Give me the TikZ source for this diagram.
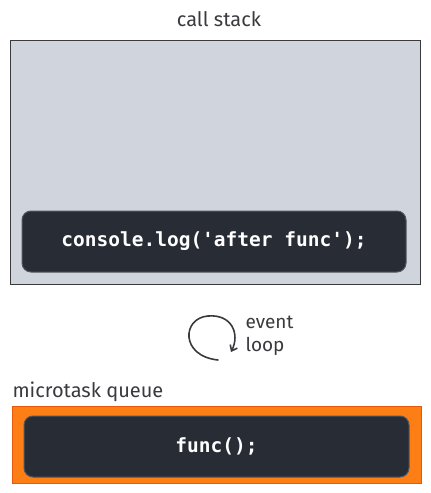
\documentclass[tikz,border=0pt]{standalone}
\usepackage{fontspec}
\setmainfont{Fira Sans}
\setmonofont{DejaVu Sans Mono}
\usepackage{tikz}
\usetikzlibrary{arrows.meta}
\definecolor{stackgray}{RGB}{208, 212, 220}
\definecolor{boxedge}{RGB}{58, 58, 62}
\definecolor{codedark}{RGB}{40, 44, 52}
\definecolor{queueorange}{RGB}{253, 126, 20}
\definecolor{queueedge}{RGB}{232, 89, 12}

\begin{document}
\begin{tikzpicture}[x=1pt, y=-1pt,
        label/.style={text=boxedge, font=\fontsize{20}{23}\selectfont},
        area/.style={draw=boxedge, line width=0.9pt, inner sep=0pt, outer sep=0pt},
        codebox/.style={draw=codedark!80!white, fill=codedark, rounded corners=9pt, line width=1pt,
            inner sep=0pt, text=white, font=\ttfamily\bfseries\fontsize{19.5}{23}\selectfont}]
        \useasboundingbox (0,0) rectangle (431,493);

        % call stack
        \node[area, fill=stackgray, minimum width=410pt, minimum height=244pt] (stack) at (215,162) {};
        \node[label] (stacklbl) at (219,19) {call stack};
        \node[codebox, minimum width=384pt, minimum height=61pt] (log) at (214,241.5) {console.log('after func');};

        % event loop
        \coordinate (loopstart) at (218,360);
        \coordinate (looptop) at (208,316);
        \coordinate (loopend) at (231,352);
        \draw[line width=1.6pt, boxedge, line cap=round, -{Straight Barb[length=5pt, width=8pt]}]
            (loopstart) .. controls (180,356) and (182,318) .. (looptop)
            .. controls (232,314) and (240,334) .. (loopend);
        \node[label, align=left, anchor=west, font=\fontsize{19}{23}\selectfont] (looplbl) at (242,336) {event\\ loop};

        % microtask queue
        \node[label, anchor=west] (queuelbl) at (9,392) {microtask queue};
        \node[area, draw=queueedge, fill=queueorange, minimum width=409pt, minimum height=77pt] (queue) at (216.5,444.5) {};
        \node[codebox, minimum width=385pt, minimum height=61pt] (func) at (216.5,446.5) {func();};
    \end{tikzpicture}
\end{document}
